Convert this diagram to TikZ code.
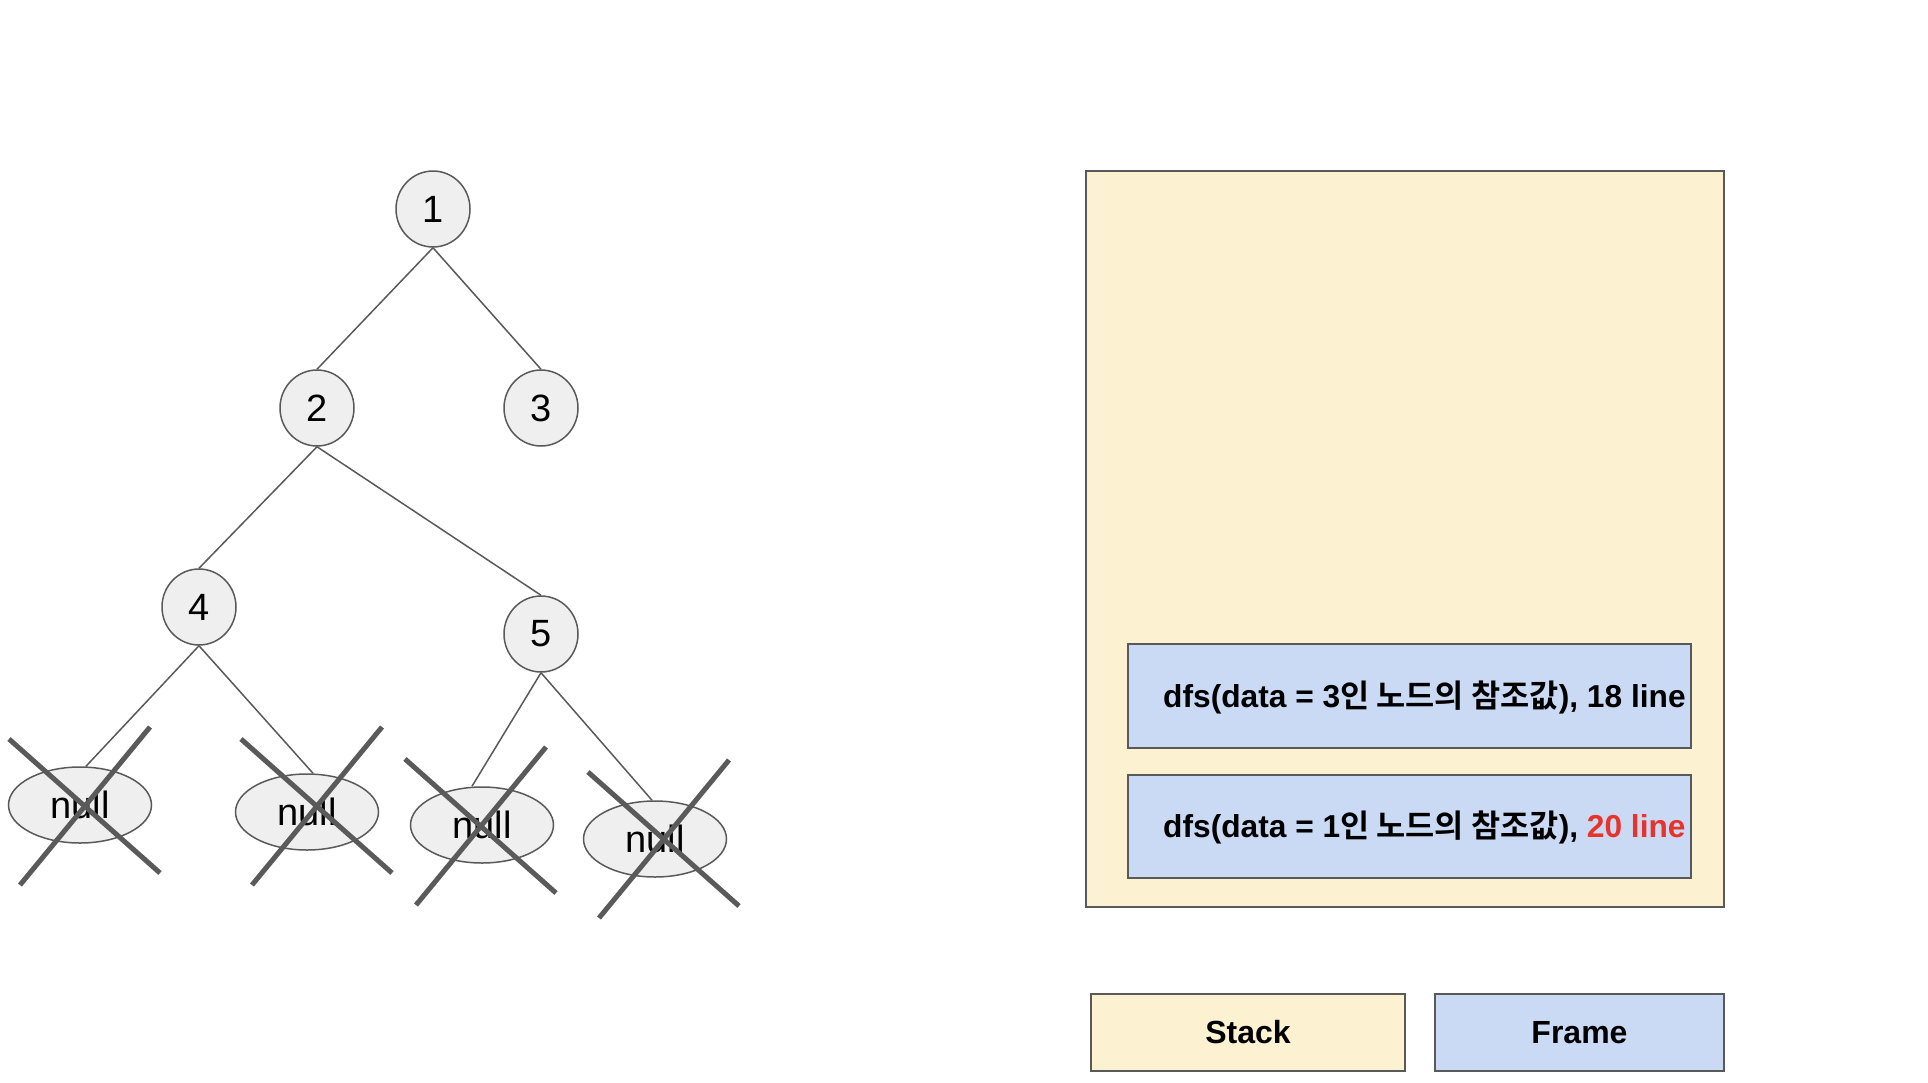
\documentclass[tikz,border=0pt]{standalone}
\usepackage{fontspec}
\setmainfont{Liberation Sans}
\newfontfamily\kr[BoldFont={Noto Sans CJK KR Bold}]{Noto Sans CJK KR}
\usetikzlibrary{shapes.geometric,calc}
\definecolor{linegray}{HTML}{595959}
\definecolor{xgray}{HTML}{5A5A5A}
\definecolor{nodefill}{HTML}{EFEFEF}
\definecolor{stackfill}{HTML}{FCF1D0}
\definecolor{framefill}{HTML}{CADAF5}
\definecolor{redtxt}{HTML}{E8332A}
\begin{document}
\begin{tikzpicture}[x=1pt,y=-1pt,
  tnode/.style={ellipse, draw=linegray, fill=nodefill, line width=1.5pt, minimum width=74pt, minimum height=76pt, inner sep=0pt, font=\fontsize{38}{42}\selectfont},
  nullnode/.style={tnode, minimum width=143pt, minimum height=76pt},
  edge/.style={draw=linegray, line width=1.5pt},
  xmark/.style={draw=xgray, line width=5pt},
  stackbox/.style={draw=linegray, fill=stackfill, line width=2pt, inner sep=0pt},
  framebox/.style={draw=linegray, fill=framefill, line width=2pt, inner sep=0pt},
  frametext/.style={anchor=west, inner sep=0pt, font=\fontsize{31.7}{36}\selectfont\bfseries},
  legendtext/.style={font=\fontsize{32}{36}\selectfont\bfseries}
]
\useasboundingbox (0,0) rectangle (1928,1082);
% tree
\node[tnode] (n1) at (433,209) {1};
\node[tnode] (n2) at (317,408) {2};
\node[tnode] (n3) at (541,408) {3};
\node[tnode] (n4) at (199,607) {4};
\node[tnode] (n5) at (541,634) {5};
\node[nullnode] (u1) at (80,805) {null};
\node[nullnode] (u2) at (307,812) {null};
\node[nullnode] (u3) at (482,825) {null};
\node[nullnode] (u4) at (655,839) {null};
\draw[edge] (n1.south) -- (n2.north);
\draw[edge] (n1.south) -- (n3.north);
\draw[edge] (n2.south) -- (n4.north);
\draw[edge] (n2.south) -- (n5.north);
\draw[edge] (n4.south) -- ($(u1.north)+(6,0)$);
\draw[edge] (n4.south) -- ($(u2.north)+(6,0)$);
\draw[edge] (n5.south) -- ($(u3.north)+(-10,0)$);
\draw[edge] (n5.south) -- ($(u4.north)+(-3,0)$);
% X marks
\coordinate (x1) at (85,806);
\coordinate (x2) at (317,806);
\coordinate (x3) at (481,826);
\coordinate (x4) at (664,839);
\foreach \c in {x1,x2,x3,x4}{
  \draw[xmark] ($(\c)+(-76,-67)$) -- ($(\c)+(75,67)$);
  \draw[xmark] ($(\c)+(-65,79)$) -- ($(\c)+(65,-79)$);
}
% stack
\node[stackbox, minimum width=638pt, minimum height=736pt] (stack) at (1405,539) {};
\node[framebox, minimum width=563pt, minimum height=104pt] (f1) at (1409.5,696) {};
\node[framebox, minimum width=563pt, minimum height=103pt] (f2) at (1409.5,826.5) {};
\node[frametext] (t1) at (1163,697) {dfs(data = 3{\kr 인 노드의 참조값}), 18 line};
\node[frametext] (t2) at (1163,827) {dfs(data = 1{\kr 인 노드의 참조값}), \textcolor{redtxt}{20 line}};
% legend
\node[stackbox, minimum width=314pt, minimum height=77pt, legendtext] (ls) at (1248,1032.5) {Stack};
\node[framebox, minimum width=289pt, minimum height=77pt, legendtext] (lf) at (1579.5,1032.5) {Frame};
\end{tikzpicture}
\end{document}
